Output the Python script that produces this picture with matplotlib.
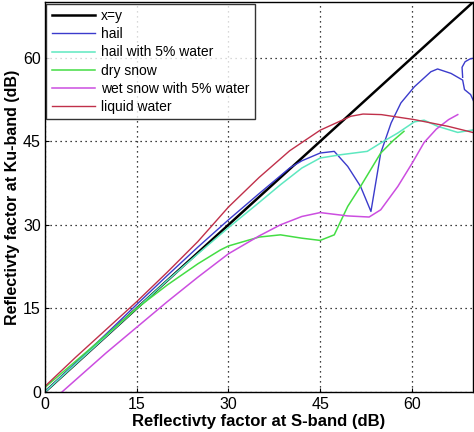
import numpy as np
import matplotlib
matplotlib.use("Agg")
import matplotlib.pyplot as plt

plt.rcParams['font.family'] = ['Liberation Sans', 'DejaVu Sans']

# x=y reference
xy_x = [0, 70]
xy_y = [0, 70]

hail_x = [0, 5, 10, 15, 20, 25, 30, 35, 40, 42, 45, 47.3, 49.5, 51.6, 53.3, 54.9, 56.6, 58.2, 60.4,
          63.1, 64.2, 66.4, 68.3, 68.6, 69.6, 70.6, 70.8, 69.5, 68.7, 68.2, 68.3]
hail_y = [0, 5.2, 10.4, 15.7, 20.9, 26.0, 30.9, 35.6, 40.2, 41.5, 42.9, 43.2, 40.5, 36.9, 32.4, 42.9, 48.3, 51.9, 54.8,
          57.5, 58.0, 57.2, 56.0, 54.3, 53.4, 51.0, 60.1, 59.8, 59.3, 58.3, 56.5]

hail5_x = [0, 5, 10, 15, 20, 25, 30, 35, 38.5, 42, 45, 48.4, 52.7, 54.9, 57.7, 60.4, 62, 64.2, 67.5, 70.3]
hail5_y = [0, 5, 10, 15, 20, 24.8, 29.5, 34, 37.2, 40.2, 42, 42.6, 43.2, 44.7, 46.5, 48.5, 48.8, 47.7, 46.6, 47.1]

dry_x = [0, 5, 10, 15, 20, 25, 28.7, 30, 35, 38.5, 42, 45, 47.3, 49.5, 51.6, 54.9, 57, 58.7]
dry_y = [0.8, 5.5, 10.2, 15, 19.2, 23, 25.5, 26.2, 27.8, 28.2, 27.6, 27.2, 28.2, 33.3, 36.9, 42.9, 45.2, 46.8]

wet_x = [2.8, 10, 15, 20, 25, 30, 35, 38.5, 42, 45, 49.5, 53, 54.9, 57.7, 60, 62, 64, 66, 67.5]
wet_y = [0, 7.0, 11.6, 16.2, 20.6, 24.8, 28, 30, 31.5, 32.2, 31.6, 31.4, 32.7, 36.9, 41, 44.8, 47.2, 48.9, 49.8]

liquid_x = [0, 5, 10, 15, 20, 25, 30, 35, 40, 45, 50, 52, 55, 60.4, 65.9, 70.3]
liquid_y = [1, 6.2, 11.2, 16.2, 21.5, 27, 33.2, 38.5, 43.3, 47, 49.5, 49.9, 49.8, 48.9, 47.7, 46.5]

ticks = [0, 15, 30, 45, 60]

fig = plt.figure(figsize=(4.74, 4.32), dpi=100)
ax = fig.add_axes([0.095, 0.093, 0.903, 0.902])

ax.plot(xy_x, xy_y, color='black', lw=1.8, label='x=y')
ax.plot(hail_x, hail_y, color='#3b3bcc', lw=1.0, label='hail')
ax.plot(hail5_x, hail5_y, color='#5ee8c0', lw=1.1, label='hail with 5% water')
ax.plot(dry_x, dry_y, color='#44dd44', lw=1.1, label='dry snow')
ax.plot(wet_x, wet_y, color='#cc4ee0', lw=1.1, label='wet snow with 5% water')
ax.plot(liquid_x, liquid_y, color='#c0304a', lw=1.0, label='liquid water')

ax.set_xlim(0, 70)
ax.set_ylim(0, 70)
ax.set_xticks(ticks)
ax.set_yticks(ticks)
ax.tick_params(direction='in', length=3, labelsize=11.5)
ax.tick_params(axis='x', pad=4)
ax.tick_params(axis='y', pad=3)
ax.grid(True, color='black', linestyle=(0, (1, 3)), lw=0.9)
for s in ax.spines.values():
    s.set_linewidth(1.0)

ax.set_xlabel('Reflectivty factor at S-band (dB)', fontsize=12, fontweight='bold', labelpad=1.5)
ax.set_ylabel('Reflectivty factor at Ku-band (dB)', fontsize=11.5, fontweight='bold', labelpad=2)

leg = ax.legend(loc='upper left', fontsize=10, frameon=True, fancybox=False,
                edgecolor='black', handlelength=3.1, handletextpad=0.4,
                borderaxespad=0.1, labelspacing=0.3, borderpad=0.4)
leg.get_frame().set_linewidth(1.0)

fig.savefig('out.png', dpi=100)
